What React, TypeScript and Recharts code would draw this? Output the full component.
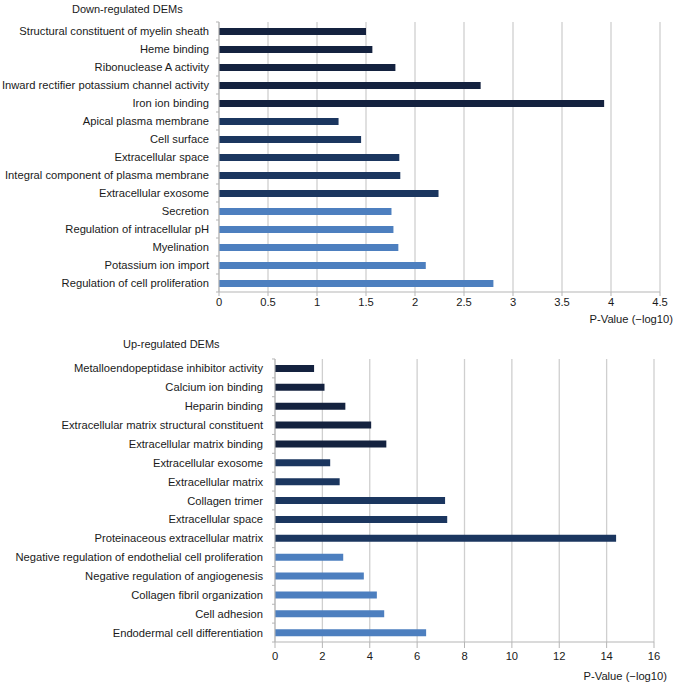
import React from "react";
import { BarChart, Bar, XAxis, YAxis, CartesianGrid, Cell } from "recharts";

const downCategories = [
  "Structural constituent of myelin sheath",
  "Heme binding",
  "Ribonuclease A activity",
  "Inward rectifier potassium channel activity",
  "Iron ion binding",
  "Apical plasma membrane",
  "Cell surface",
  "Extracellular space",
  "Integral component of plasma membrane",
  "Extracellular exosome",
  "Secretion",
  "Regulation of intracellular pH",
  "Myelination",
  "Potassium ion import",
  "Regulation of cell proliferation",
];
const downValues = [1.5, 1.565, 1.8, 2.67, 3.93, 1.22, 1.45, 1.84, 1.85, 2.24, 1.76, 1.78, 1.83, 2.11, 2.8];
const downGroups = ["mf", "mf", "mf", "mf", "mf", "cc", "cc", "cc", "cc", "cc", "bp", "bp", "bp", "bp", "bp"];
const downTicks = [0, 0.5, 1, 1.5, 2, 2.5, 3, 3.5, 4, 4.5];

const upCategories = [
  "Metalloendopeptidase inhibitor activity",
  "Calcium ion binding",
  "Heparin binding",
  "Extracellular matrix structural constituent",
  "Extracellular matrix binding",
  "Extracellular exosome",
  "Extracellular matrix",
  "Collagen trimer",
  "Extracellular space",
  "Proteinaceous extracellular matrix",
  "Negative regulation of endothelial cell proliferation",
  "Negative regulation of angiogenesis",
  "Collagen fibril organization",
  "Cell adhesion",
  "Endodermal cell differentiation",
];
const upValues = [1.65, 2.09, 2.97, 4.06, 4.7, 2.33, 2.73, 7.18, 7.27, 14.4, 2.88, 3.75, 4.3, 4.61, 6.38];
const upGroups = ["mf", "mf", "mf", "mf", "mf", "cc", "cc", "cc", "cc", "cc", "bp", "bp", "bp", "bp", "bp"];
const upTicks = [0, 2, 4, 6, 8, 10, 12, 14, 16];

const groupColors: Record<string, string> = { mf: "#14223f", cc: "#1b365f", bp: "#4d7fbf" };

const FONT = "'Liberation Sans', Arial, Helvetica, sans-serif";

function makeTick(axisX: number, band: number, count: number, gap: number) {
  return (props: any) => {
    const { y, payload, index } = props;
    return (
      <g>
        <text x={axisX - gap} y={y} dy={4} textAnchor="end" fontSize={11.2} fill="#1a1a1a" fontFamily={FONT}>
          {payload.value}
        </text>
        <line x1={axisX - 3} x2={axisX} y1={y - band / 2} y2={y - band / 2} stroke="#b5b5b5" />
        {index === count - 1 ? (
          <line x1={axisX - 3} x2={axisX} y1={y + band / 2} y2={y + band / 2} stroke="#b5b5b5" />
        ) : null}
      </g>
    );
  };
}

interface PanelProps {
  title: string;
  titleX: number;
  titleY: number;
  categories: string[];
  values: number[];
  groups: string[];
  ticks: number[];
  height: number;
  axisWidth: number;
  top: number;
  right: number;
  bottom: number;
  band: number;
  barSize: number;
  labelGap: number;
  tickSize: number;
  tickMargin: number;
  labelDx: number;
  labelDy: number;
}

function Panel(p: PanelProps) {
  const data = p.categories.map((c, i) => ({ name: c, value: p.values[i], group: p.groups[i] }));
  const max = p.ticks[p.ticks.length - 1];
  return (
    <div style={{ position: "relative", width: 677, height: p.height }}>
      <div
        style={{
          position: "absolute",
          left: p.titleX,
          top: p.titleY,
          fontFamily: FONT,
          fontSize: 11,
          color: "#1a1a1a",
          lineHeight: "13px",
          whiteSpace: "nowrap",
        }}
      >
        {p.title}
      </div>
      <BarChart
        width={677}
        height={p.height}
        data={data}
        layout="vertical"
        margin={{ top: p.top, right: p.right, bottom: p.bottom, left: 0 }}
        barCategoryGap={0}
      >
        <CartesianGrid horizontal={false} vertical={true} stroke="#cfcfcf" strokeWidth={1.3} />
        <XAxis
          type="number"
          domain={[0, max]}
          ticks={p.ticks}
          allowDecimals={true}
          interval={0}
          height={30}
          tickSize={p.tickSize}
          tickMargin={p.tickMargin}
          stroke="#b5b5b5"
          tick={{ fontSize: 11.2, fill: "#1a1a1a", fontFamily: FONT }}
          label={{
            value: "P-Value (\u2212log10)",
            position: "insideBottomRight",
            offset: 0,
            dx: p.labelDx,
            dy: p.labelDy,
            fill: "#1a1a1a",
            fontSize: 11.2,
            fontFamily: FONT,
          }}
        />
        <YAxis
          type="category"
          dataKey="name"
          width={p.axisWidth}
          interval={0}
          tickLine={false}
          stroke="#b5b5b5"
          tick={makeTick(p.axisWidth, p.band, p.categories.length, p.labelGap)}
        />
        <Bar dataKey="value" barSize={p.barSize} isAnimationActive={false}>
          {data.map((d, i) => (
            <Cell key={i} fill={groupColors[d.group]} />
          ))}
        </Bar>
      </BarChart>
    </div>
  );
}

export default function App() {
  return (
    <div style={{ position: "absolute", left: 0, top: 0, width: 677, height: 686, background: "#fff" }}>
      <Panel
        title="Down-regulated DEMs"
        titleX={72}
        titleY={3}
        categories={downCategories}
        values={downValues}
        groups={downGroups}
        ticks={downTicks}
        height={330}
        axisWidth={219}
        top={22}
        right={17}
        bottom={8}
        band={18}
        barSize={7}
        labelGap={10}
        tickSize={4}
        tickMargin={2}
        labelDx={13}
        labelDy={1}
      />
      <Panel
        title="Up-regulated DEMs"
        titleX={123}
        titleY={8}
        categories={upCategories}
        values={upValues}
        groups={upGroups}
        ticks={upTicks}
        height={356}
        axisWidth={275}
        top={29}
        right={23}
        bottom={14}
        band={18.9}
        barSize={7}
        labelGap={12}
        tickSize={6}
        tickMargin={4}
        labelDx={13}
        labelDy={8}
      />
    </div>
  );
}
